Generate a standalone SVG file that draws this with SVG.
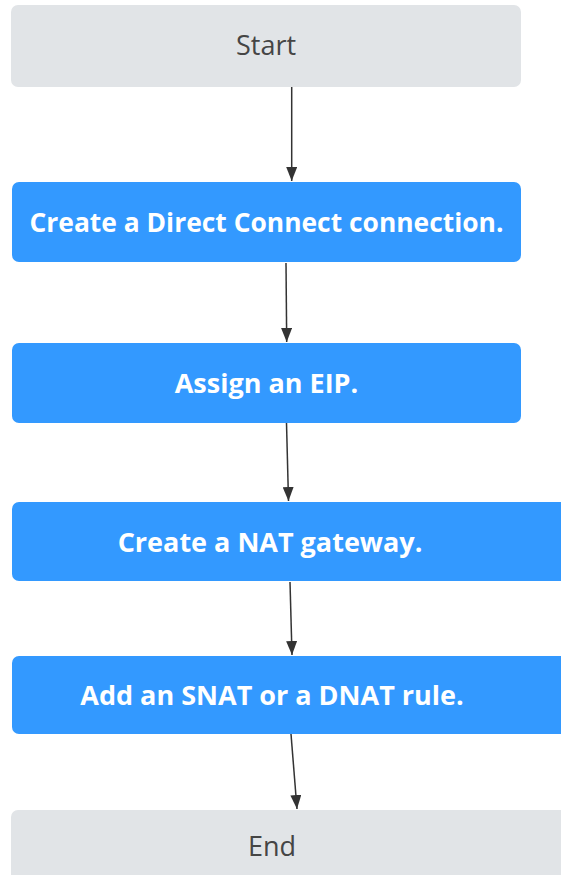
<svg xmlns="http://www.w3.org/2000/svg" width="561" height="875" viewBox="0 0 561 875">
<style>
.term rect{fill:#e1e4e7;}
.step rect{fill:#3399ff;}
.term text{font-family:"Open Sans","Noto Sans",sans-serif;font-size:27px;fill:#454545;text-anchor:middle;}
.step text{font-family:"Open Sans","Noto Sans",sans-serif;font-size:27px;font-weight:bold;fill:#ffffff;text-anchor:middle;}
.conn line{stroke:#333333;stroke-width:1.5;fill:none;marker-end:url(#arr);}
</style>
<defs>
<marker id="arr" markerUnits="userSpaceOnUse" markerWidth="14" markerHeight="11" refX="14" refY="5.5" orient="auto">
<path d="M0,0 L14,5.5 L0,11 z" fill="#333333"/>
</marker>
</defs>
<rect width="561" height="875" fill="#ffffff"/>
<g id="start" class="term">
<rect x="11" y="5" width="510" height="82" rx="7"/>
<text x="266" y="55">Start</text>
</g>
<g id="create-dc" class="step">
<rect x="12" y="182" width="509" height="80" rx="7"/>
<text x="266.5" y="232" textLength="474" lengthAdjust="spacingAndGlyphs">Create a Direct Connect connection.</text>
</g>
<g id="assign-eip" class="step">
<rect x="12" y="343" width="509" height="80" rx="7"/>
<text x="266.5" y="393">Assign an EIP.</text>
</g>
<g id="create-nat" class="step">
<rect x="12" y="502" width="560" height="79" rx="7"/>
<text x="270" y="552">Create a NAT gateway.</text>
</g>
<g id="add-rule" class="step">
<rect x="12" y="656" width="560" height="78" rx="7"/>
<text x="272" y="705">Add an SNAT or a DNAT rule.</text>
</g>
<g id="end" class="term">
<rect x="11" y="810" width="560" height="80" rx="7"/>
<text x="272" y="856">End</text>
</g>
<g id="connectors" class="conn">
<line x1="291.7" y1="87" x2="291.7" y2="181"/>
<line x1="286" y1="263" x2="286.7" y2="342"/>
<line x1="286.5" y1="423" x2="288.5" y2="501"/>
<line x1="290" y1="582" x2="292" y2="655"/>
<line x1="291" y1="734" x2="297" y2="809"/>
</g>
</svg>
